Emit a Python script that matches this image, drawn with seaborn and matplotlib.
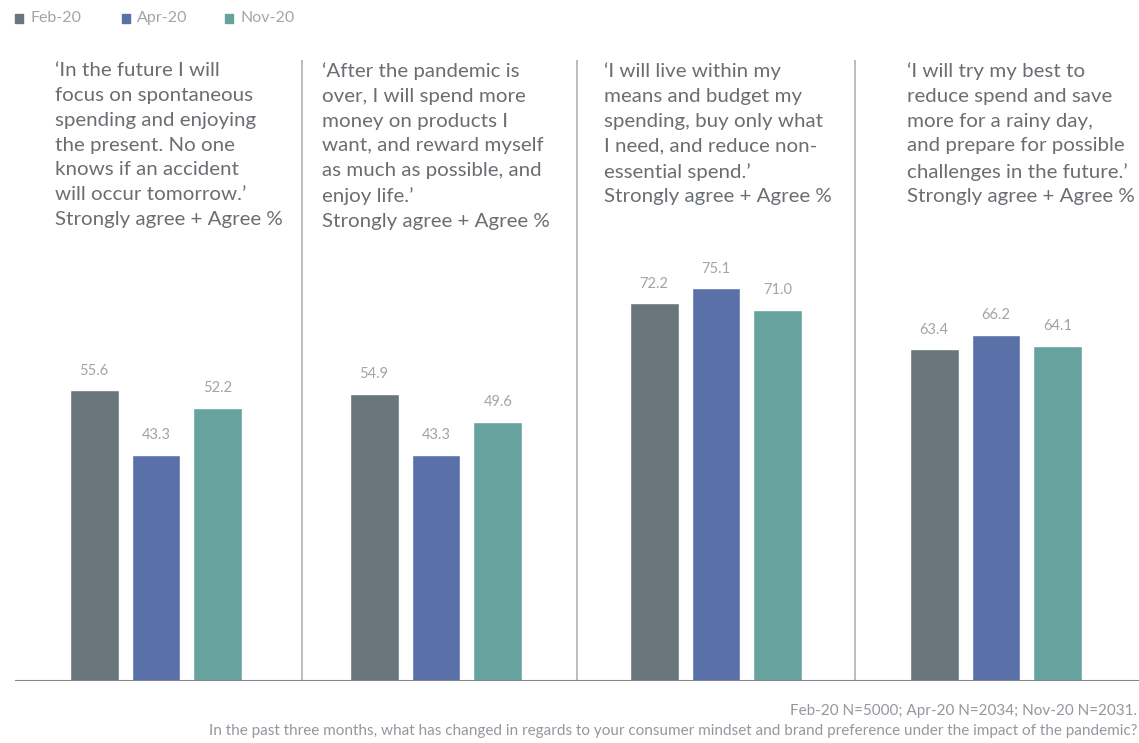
import numpy as np
import pandas as pd
import seaborn as sns
import matplotlib.pyplot as plt

# data
statements = ["future", "after", "means", "save"]
periods = ["Feb-20", "Apr-20", "Nov-20"]
feb20 = [55.6, 54.9, 72.2, 63.4]
apr20 = [43.3, 43.3, 75.1, 66.2]
nov20 = [52.2, 49.6, 71.0, 64.1]
titles = [
    "\u2018In the future I will\nfocus on spontaneous\nspending and enjoying\nthe present. No one\nknows if an accident\nwill occur tomorrow.\u2019\nStrongly agree + Agree %",
    "\u2018After the pandemic is\nover, I will spend more\nmoney on products I\nwant, and reward myself\nas much as possible, and\nenjoy life.\u2019\nStrongly agree + Agree %",
    "\u2018I will live within my\nmeans and budget my\nspending, buy only what\nI need, and reduce non-\nessential spend.\u2019\nStrongly agree + Agree %",
    "\u2018I will try my best to\nreduce spend and save\nmore for a rainy day,\nand prepare for possible\nchallenges in the future.\u2019\nStrongly agree + Agree %",
]
note1 = "Feb-20 N=5000; Apr-20 N=2034; Nov-20 N=2031."
note2 = "In the past three months, what has changed in regards to your consumer mindset and brand preference under the impact of the pandemic?"

colors = ["#68757a", "#5a70a8", "#66a39e"]

df = pd.DataFrame({
    "statement": statements * 3,
    "period": np.repeat(periods, 4),
    "value": feb20 + apr20 + nov20,
})

sns.set_style("white")
plt.rcParams["font.family"] = ["Lato", "DejaVu Sans"]

W, H = 1139, 743
fig = plt.figure(figsize=(W / 100, H / 100), dpi=100)
ax = fig.add_axes([15 / W, (H - 681) / H, (1139 - 15) / W, (681 - 60) / H])

sns.barplot(data=df, x="statement", y="value", hue="period", order=statements,
            hue_order=periods, palette=colors, width=0.664, gap=0.21,
            saturation=1, ax=ax, legend=False)

for c in ax.containers:
    ax.bar_label(c, fmt="%.1f", padding=9, fontsize=10.5, color="#a0a5aa")

ax.set_xlim((15 - 156) / 280, (1139 - 156) / 280)
ax.set_ylim(0, (681 - 60) / 5.23)
for xs in [0.521, 1.504, 2.496]:
    ax.axvline(xs, color="#b3b7bb", lw=1.3)
ax.axhline(0, color="#7d8790", lw=1.5)
for s in ax.spines.values():
    s.set_visible(False)
ax.set_xticks([])
ax.set_yticks([])
ax.set_xlabel("")
ax.set_ylabel("")

# statement titles
for tx, t in zip([55, 322, 604, 907], titles):
    fig.text(tx / W, 1 - 62 / H, t, ha="left", va="top", fontsize=14.75,
             color="#6a6e72", linespacing=1.56)

# legend
for lx, lab, col in zip([15, 122, 225], periods, colors):
    fig.patches.append(plt.Rectangle((lx / W, 1 - 23 / H), 8 / W, 9 / H,
                                     transform=fig.transFigure, color=col))
    fig.text((lx + 15) / W, 1 - 18 / H, lab, ha="left", va="center",
             fontsize=11.5, color="#a0a5aa")

fig.text(1137 / W, 1 - 711 / H, note1, ha="right", va="center", fontsize=11,
         color="#93989e")
fig.text(1137 / W, 1 - 731 / H, note2, ha="right", va="center", fontsize=11,
         color="#93989e")

fig.savefig("out.png", dpi=100)
